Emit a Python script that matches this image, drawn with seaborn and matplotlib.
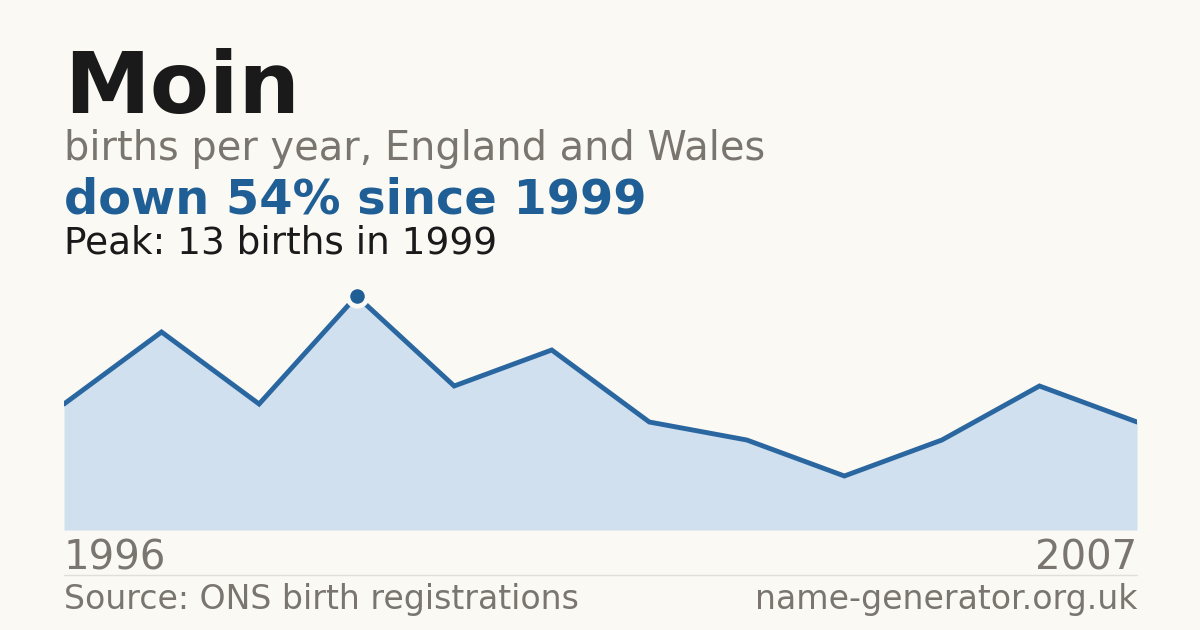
import matplotlib
matplotlib.use("Agg")
import matplotlib.pyplot as plt
import seaborn as sns
import pandas as pd

years = [1996, 1997, 1998, 1999, 2000, 2001, 2002, 2003, 2004, 2005, 2006, 2007]
births = [7, 11, 7, 13, 8, 10, 6, 5, 3, 5, 8, 6]

title = "Moin"
subtitle = "births per year, England and Wales"
headline = "down 54% since 1999"
peak_text = "Peak: 13 births in 1999"
source = "Source: ONS birth registrations"
site = "name-generator.org.uk"

BG = "#faf9f4"
LINE = "#2a67a0"
FILL = "#d0e0ef"
DARK = "#1f5f96"
GRAY = "#7a766f"
INK = "#1a1a1a"

sns.set_theme(style="white")
plt.rcParams["font.family"] = ["DejaVu Sans"]

df = pd.DataFrame({"year": years, "births": births})

W, H = 1200, 630
fig = plt.figure(figsize=(12, 6.3), dpi=100, facecolor=BG)

def fx(px):
    return px / W

def fy(py):
    return 1 - py / H

left, right, top, bottom = 64, 1137, 280, 530
ax = fig.add_axes([fx(left), fy(bottom), fx(right - left), (bottom - top) / H])
ax.set_facecolor(BG)
ax.fill_between(df["year"], df["births"], 0, color=FILL, linewidth=0)
sns.lineplot(data=df, x="year", y="births", ax=ax, color=LINE, linewidth=3.5,
             solid_joinstyle="miter")
pk = df.loc[df["births"].idxmax()]
ax.plot([pk["year"]], [pk["births"]], "o", color=DARK, markersize=14,
        markeredgecolor=BG, markeredgewidth=3.5, zorder=5)
ax.set_xlim(years[0], years[-1])
ax.set_ylim(0, 13 * (bottom - top) / (bottom - 296))
ax.axis("off")

fig.text(fx(64), fy(113), title, fontsize=62, fontweight="bold", color=INK, va="baseline", ha="left")
fig.text(fx(64), fy(160), subtitle, fontsize=28.7, color=GRAY, va="baseline", ha="left")
fig.text(fx(64), fy(214), headline, fontsize=34.5, fontweight="bold", color=DARK, va="baseline", ha="left")
fig.text(fx(64), fy(254), peak_text, fontsize=26.9, color=INK, va="baseline", ha="left")
fig.text(fx(64), fy(569), str(years[0]), fontsize=29, color=GRAY, va="baseline", ha="left")
fig.text(fx(1137), fy(569), str(years[-1]), fontsize=29, color=GRAY, va="baseline", ha="right")
fig.text(fx(64), fy(609), source, fontsize=23.9, color=GRAY, va="baseline", ha="left")
fig.text(fx(1137), fy(609), site, fontsize=23.9, color=GRAY, va="baseline", ha="right")
fig.add_artist(plt.Line2D([fx(64), fx(1137)], [fy(574.5), fy(574.5)], color="#e2dfd8", linewidth=1))

fig.savefig("out.png", dpi=100, facecolor=BG)
